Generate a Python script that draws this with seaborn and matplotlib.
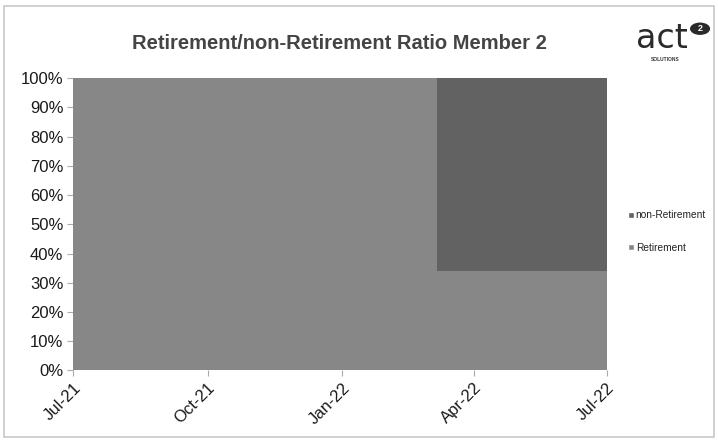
import matplotlib
matplotlib.use("Agg")
import matplotlib.pyplot as plt
import matplotlib.dates as mdates
from matplotlib.patches import Patch, Rectangle, Circle
import numpy as np
import pandas as pd
import seaborn as sns

sns.set_theme(style="white")
plt.rcParams["font.family"] = ["Liberation Sans", "DejaVu Sans"]

# ---- data ----
dates = ["2021-07-01", "2022-03-07", "2022-07-01"]
retirement = [100, 34, 34]
non_retirement = [0, 66, 66]
tick_dates = ["2021-07-01", "2021-10-01", "2022-01-01", "2022-04-01", "2022-07-01"]

df = pd.DataFrame({"date": pd.to_datetime(dates),
                   "Retirement": retirement,
                   "non-Retirement": non_retirement})

c_ret = "#878787"
c_non = "#626262"

fig = plt.figure(figsize=(7.18, 4.42), dpi=100)
ax = fig.add_axes([0.1017, 0.162, 0.7435, 0.661])

ax.stackplot(df["date"], df["Retirement"] / 100, df["non-Retirement"] / 100,
             colors=[c_ret, c_non], step="post", linewidth=0)

ax.set_xlim(pd.Timestamp(dates[0]), pd.Timestamp(dates[-1]))
ax.set_ylim(0, 1)
ax.set_yticks(np.arange(0, 1.01, 0.1))
ax.set_yticklabels([f"{int(round(v * 100))}%" for v in np.arange(0, 1.01, 0.1)])
ax.set_xticks(pd.to_datetime(tick_dates))
ax.xaxis.set_major_formatter(mdates.DateFormatter("%b-%y"))
plt.setp(ax.get_xticklabels(), rotation=45, ha="right", rotation_mode="anchor")

ax.tick_params(axis="both", which="major", labelsize=12, length=4, width=0.8,
               direction="out", bottom=True, left=True, colors="#aaaaaa",
               labelcolor="#1a1a1a", pad=3)
for s in ax.spines.values():
    s.set_visible(False)

ax.set_title("Retirement/non-Retirement Ratio Member 2", fontsize=14.5,
             fontweight="bold", color="#444444", pad=21)

handles = [Patch(facecolor=c_non, label="non-Retirement"),
           Patch(facecolor=c_ret, label="Retirement")]
fig.legend(handles=handles, loc="center left", bbox_to_anchor=(0.862, 0.476),
           frameon=False, fontsize=7.3, handlelength=0.55, handleheight=0.55,
           handletextpad=0.2, labelspacing=2.2, labelcolor="#222222")

# logo
fig.text(0.922, 0.912, "act", fontsize=24, color="#2a2a2a", ha="center",
         va="center", family="DejaVu Sans")
fig.patches.append(Circle((0.975, 0.935), 0.014, transform=fig.transFigure,
                          facecolor="#2a2a2a", edgecolor="none"))
fig.text(0.975, 0.935, "2", fontsize=6.5, color="white", ha="center", va="center",
         fontweight="bold")
fig.text(0.926, 0.866, "SOLUTIONS", fontsize=3.5, color="#333333",
         ha="center", va="center", fontweight="bold")

# outer frame
fig.patches.append(Rectangle((0.005, 0.012), 0.99, 0.975, transform=fig.transFigure,
                             fill=False, edgecolor="#c8c8c8", linewidth=1.2))

fig.savefig("out.png", dpi=100)
